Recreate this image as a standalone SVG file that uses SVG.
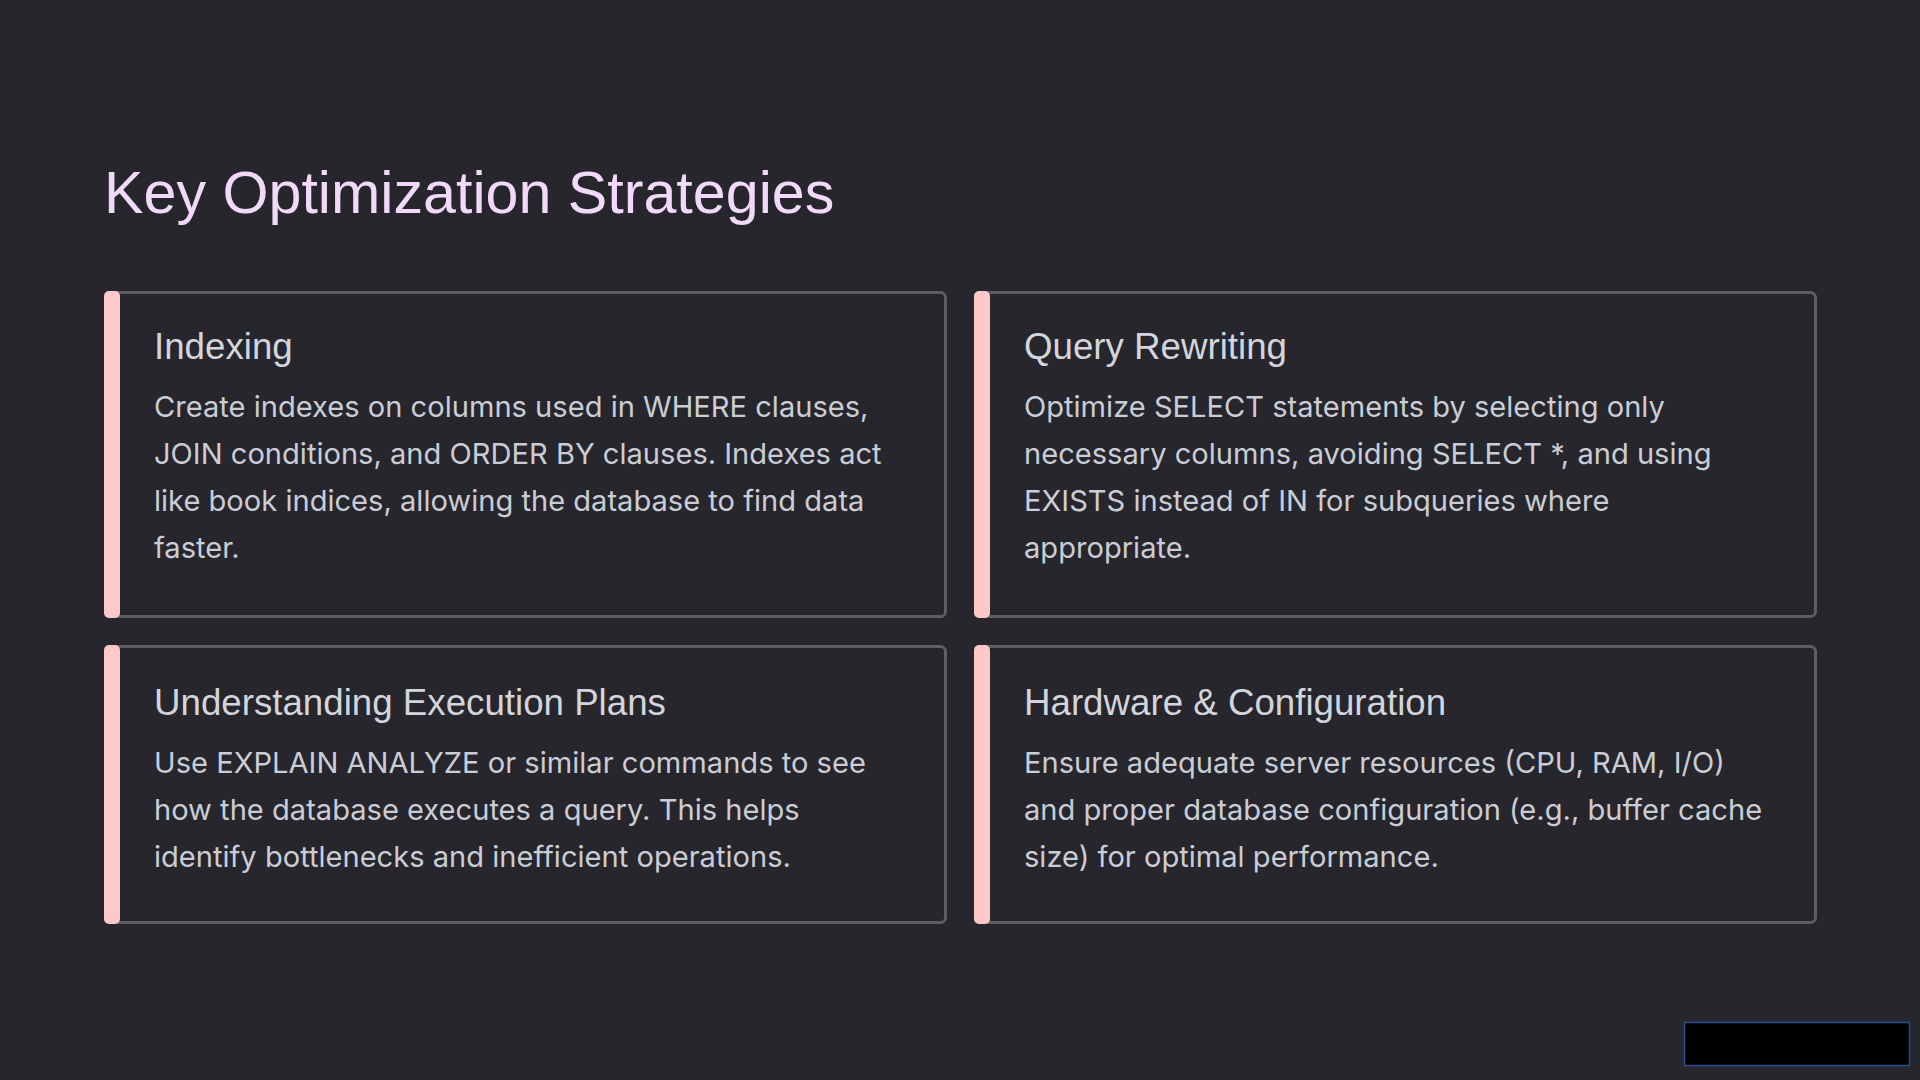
<svg xmlns="http://www.w3.org/2000/svg" width="1920" height="1080" viewBox="0 0 1920 1080">
<style>
.bg{fill:#26262c}
.card{fill:#26262c;stroke:#5d5d64;stroke-width:3}
.bar{fill:#ffc9c9}
.title{font-family:"Liberation Sans",Arial,sans-serif;font-size:59.2px;fill:#f2d9fa}
.h{font-family:"Liberation Sans",Arial,sans-serif;font-size:36.7px;fill:#d3d5dd}
.b{font-family:Inter,"Noto Sans",sans-serif;font-size:29.1px;fill:#cacdd6}
</style>
<rect class="bg" x="0" y="0" width="1920" height="1080"/>
<text class="title" x="104" y="213">Key Optimization Strategies</text>
<g id="card-indexing">
<rect class="card" x="105.5" y="292.5" width="840" height="324" rx="5"/>
<rect class="bar" x="104" y="291" width="16" height="327" rx="5"/>
<text class="h" x="154" y="359">Indexing</text>
<text class="b" x="154" y="417">Create indexes on columns used in WHERE clauses,</text>
<text class="b" x="154" y="464">JOIN conditions, and ORDER BY clauses. Indexes act</text>
<text class="b" x="154" y="511">like book indices, allowing the database to find data</text>
<text class="b" x="154" y="558">faster.</text>
</g>
<g id="card-query">
<rect class="card" x="975.5" y="292.5" width="840" height="324" rx="5"/>
<rect class="bar" x="974" y="291" width="16" height="327" rx="5"/>
<text class="h" x="1024" y="359">Query Rewriting</text>
<text class="b" x="1024" y="417">Optimize SELECT statements by selecting only</text>
<text class="b" x="1024" y="464">necessary columns, avoiding SELECT *, and using</text>
<text class="b" x="1024" y="511">EXISTS instead of IN for subqueries where</text>
<text class="b" x="1024" y="558">appropriate.</text>
</g>
<g id="card-plans">
<rect class="card" x="105.5" y="646.5" width="840" height="276" rx="5"/>
<rect class="bar" x="104" y="645" width="16" height="279" rx="5"/>
<text class="h" x="154" y="714.5">Understanding Execution Plans</text>
<text class="b" x="154" y="772.5">Use EXPLAIN ANALYZE or similar commands to see</text>
<text class="b" x="154" y="819.5">how the database executes a query. This helps</text>
<text class="b" x="154" y="866.5">identify bottlenecks and inefficient operations.</text>
</g>
<g id="card-hardware">
<rect class="card" x="975.5" y="646.5" width="840" height="276" rx="5"/>
<rect class="bar" x="974" y="645" width="16" height="279" rx="5"/>
<text class="h" x="1024" y="714.5">Hardware &amp; Configuration</text>
<text class="b" x="1024" y="772.5">Ensure adequate server resources (CPU, RAM, I/O)</text>
<text class="b" x="1024" y="819.5">and proper database configuration (e.g., buffer cache</text>
<text class="b" x="1024" y="866.5">size) for optimal performance.</text>
</g>
<g id="connectors"></g>
<rect id="black-box" x="1684.5" y="1022.5" width="225" height="43" fill="#000" stroke="#2b4c8c" stroke-width="1.5"/>
</svg>
